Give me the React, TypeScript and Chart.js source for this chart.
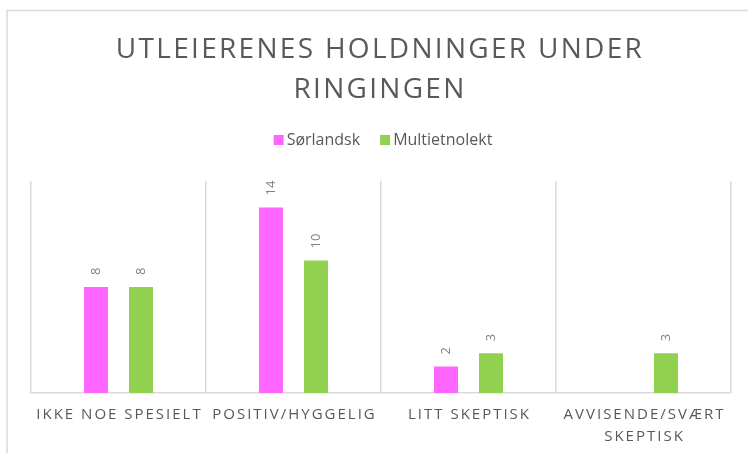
import React, { useEffect, useRef } from 'react';
import { Chart, registerables } from 'chart.js';

Chart.register(...registerables);

const categories: string[][] = [
  ['IKKE NOE SPESIELT'],
  ['POSITIV/HYGGELIG'],
  ['LITT SKEPTISK'],
  ['AVVISENDE/SVÆRT', 'SKEPTISK'],
];
const seriesNames = ['Sørlandsk', 'Multietnolekt'];
const sorlandsk: (number | null)[] = [8, 14, 2, null];
const multietnolekt: (number | null)[] = [8, 10, 3, 3];
const seriesColors = ['#FF66FF', '#92D050'];
const titleLines = ['UTLEIERENES HOLDNINGER UNDER', 'RINGINGEN'];
const yMax = 16;

const FONT = '"Open Sans", "Noto Sans", sans-serif';
const TEXT = '#595959';

const decor = {
  id: 'decor',
  beforeDraw(chart: any) {
    const ctx = chart.ctx as CanvasRenderingContext2D;
    ctx.save();
    ctx.fillStyle = '#ffffff';
    ctx.fillRect(0, 0, chart.width, chart.height);
    ctx.strokeStyle = '#d9d9d9';
    ctx.lineWidth = 1.5;
    ctx.strokeRect(7, 10.5, chart.width + 40, chart.height + 40);
    ctx.restore();
  },
  afterDraw(chart: any) {
    const ctx = chart.ctx as any;
    // title
    ctx.save();
    ctx.fillStyle = TEXT;
    ctx.font = `28px ${FONT}`;
    ctx.letterSpacing = '2.3px';
    ctx.textAlign = 'center';
    ctx.textBaseline = 'alphabetic';
    titleLines.forEach((l, i) => ctx.fillText(l, 380, 58 + i * 39.5));
    ctx.restore();

    // legend
    ctx.save();
    ctx.font = `16px ${FONT}`;
    ctx.textBaseline = 'middle';
    ctx.textAlign = 'left';
    const box = 10, gap = 3, itemGap = 20;
    const ds = chart.data.datasets;
    const widths = ds.map((d: any) => box + gap + ctx.measureText(d.label).width);
    const total = widths.reduce((a: number, b: number) => a + b, 0) + itemGap * (ds.length - 1);
    let x = 383 - total / 2;
    const ly = 140;
    ds.forEach((d: any, i: number) => {
      ctx.fillStyle = d.backgroundColor;
      ctx.fillRect(x, ly - box / 2, box, box);
      ctx.fillStyle = TEXT;
      ctx.fillText(d.label, x + box + gap, ly + 0.5);
      x += widths[i] + itemGap;
    });
    ctx.restore();

    // x labels
    ctx.save();
    ctx.font = `15px ${FONT}`;
    ctx.letterSpacing = '2px';
    ctx.fillStyle = TEXT;
    ctx.textAlign = 'center';
    ctx.textBaseline = 'alphabetic';
    const xs = chart.scales.x;
    categories.forEach((lines, i) => {
      const cx = xs.getPixelForValue(i) + 1;
      lines.forEach((l, j) => ctx.fillText(l, cx, 419 + j * 22));
    });
    ctx.restore();

    // data labels
    ctx.save();
    ctx.font = `13px ${FONT}`;
    ctx.fillStyle = '#808080';
    ctx.textAlign = 'left';
    ctx.textBaseline = 'middle';
    ds.forEach((d: any, di: number) => {
      const meta = chart.getDatasetMeta(di);
      meta.data.forEach((bar: any, i: number) => {
        const v = d.data[i];
        if (v == null) return;
        ctx.save();
        ctx.translate(bar.x, bar.y - 12);
        ctx.rotate(-Math.PI / 2);
        ctx.fillText(String(v), 0, 0);
        ctx.restore();
      });
    });
    ctx.restore();
  },
};

export default function App() {
  const ref = useRef<HTMLCanvasElement>(null);
  useEffect(() => {
    if (!ref.current) return;
    const chart = new Chart(ref.current, {
      type: 'bar',
      data: {
        labels: categories.map((c) => c.join(' ')),
        datasets: [
          { label: seriesNames[0], data: sorlandsk, backgroundColor: seriesColors[0] },
          { label: seriesNames[1], data: multietnolekt, backgroundColor: seriesColors[1] },
        ],
      },
      options: {
        animation: false,
        responsive: false,
        devicePixelRatio: 1,
        layout: { padding: { left: 31, right: 17, top: 181, bottom: 60 } },
        datasets: {
          bar: { categoryPercentage: 0.514, barPercentage: 0.533 },
        },
        plugins: {
          legend: { display: false },
          title: { display: false },
          tooltip: { enabled: false },
        },
        scales: {
          x: {
            grid: { display: true, color: '#d9d9d9', lineWidth: 1.5, drawTicks: false, offset: true },
            border: { display: true, color: '#d9d9d9', width: 1.5 },
            ticks: { display: false },
          },
          y: { display: false, min: 0, max: yMax },
        },
      },
      plugins: [decor],
    } as any);
    return () => chart.destroy();
  }, []);
  return (
    <div style={{ position: 'absolute', left: 0, top: 0, width: 748, height: 453, background: '#fff' }}>
      <canvas ref={ref} width={748} height={453} style={{ width: 748, height: 453, display: 'block' }} />
    </div>
  );
}
